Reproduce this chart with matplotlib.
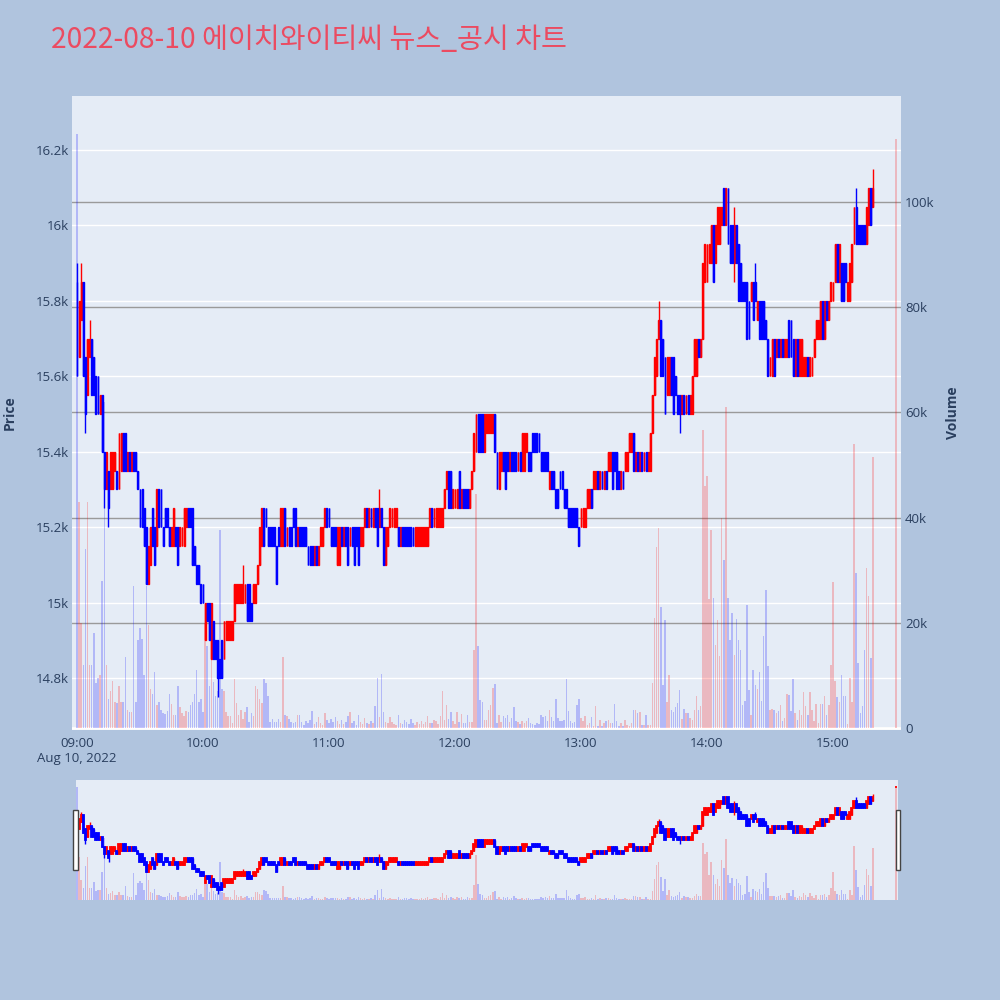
import matplotlib
matplotlib.use("Agg")
import matplotlib.pyplot as plt
from matplotlib.patches import Rectangle
import pandas as pd

plt.rcParams['font.family'] = ['Open Sans', 'Noto Sans CJK KR', 'DejaVu Sans']

title = "2022-08-10 에이치와이티씨 뉴스_공시 차트"

# one bar per minute 09:00-15:19, plus the 15:30 closing auction
times = list(pd.date_range("2022-08-10 09:00", "2022-08-10 15:19", freq="min"))
times.append(pd.Timestamp("2022-08-10 15:30"))

opens = [
    15850, 15650, 15750, 15850, 15650, 15550, 15650, 15700, 15650, 15600,
    15600, 15500, 15550, 15400, 15300, 15350, 15300, 15300, 15350, 15350,
    15300, 15350, 15450, 15450, 15350, 15400, 15350, 15400, 15400, 15350,
    15300, 15300, 15250, 15200, 15050, 15100, 15250, 15200, 15150, 15300,
    15300, 15200, 15250, 15250, 15200, 15150, 15150, 15200, 15200, 15150,
    15150, 15150, 15200, 15250, 15250, 15250, 15150, 15100, 15100, 15050,
    15050, 14900, 15000, 15000, 14850, 14950, 14900, 14900, 14850, 14900,
    14850, 14900, 14900, 14900, 14900, 14950, 15000, 15000, 15000, 15000,
    15000, 15050, 15050, 15000, 15000, 15000, 15050, 15100, 15150, 15250,
    15250, 15200, 15200, 15200, 15200, 15150, 15200, 15150, 15150, 15250,
    15150, 15200, 15200, 15250, 15250, 15150, 15200, 15200, 15200, 15200,
    15150, 15150, 15150, 15100, 15150, 15100, 15150, 15150, 15200, 15250,
    15250, 15200, 15200, 15200, 15100, 15100, 15200, 15150, 15200, 15200,
    15150, 15200, 15200, 15200, 15200, 15150, 15150, 15200, 15250, 15200,
    15250, 15200, 15250, 15250, 15200, 15250, 15200, 15100, 15150, 15200,
    15200, 15200, 15200, 15200, 15150, 15200, 15200, 15200, 15200, 15200,
    15200, 15150, 15150, 15150, 15150, 15150, 15150, 15150, 15200, 15250,
    15200, 15200, 15200, 15200, 15200, 15250, 15300, 15350, 15350, 15250,
    15250, 15250, 15350, 15250, 15300, 15300, 15300, 15250, 15300, 15350,
    15400, 15500, 15500, 15500, 15400, 15450, 15450, 15450, 15450, 15500,
    15400, 15300, 15350, 15400, 15400, 15400, 15350, 15400, 15400, 15400,
    15350, 15400, 15350, 15350, 15400, 15400, 15400, 15450, 15450, 15450,
    15450, 15400, 15400, 15400, 15400, 15300, 15350, 15350, 15300, 15300,
    15350, 15350, 15300, 15300, 15250, 15250, 15250, 15250, 15250, 15200,
    15200, 15200, 15200, 15250, 15250, 15300, 15300, 15300, 15350, 15300,
    15350, 15300, 15350, 15350, 15350, 15400, 15400, 15400, 15350, 15300,
    15350, 15350, 15350, 15400, 15400, 15450, 15350, 15400, 15350, 15400,
    15350, 15400, 15350, 15350, 15450, 15550, 15600, 15700, 15750, 15700,
    15650, 15550, 15550, 15650, 15650, 15600, 15550, 15550, 15500, 15550,
    15500, 15550, 15500, 15500, 15600, 15600, 15700, 15650, 15700, 15850,
    15850, 15900, 15900, 16000, 15900, 15950, 15950, 16000, 16100, 16000,
    16100, 16000, 16000, 15900, 16000, 15950, 15900, 15850, 15850, 15850,
    15800, 15800, 15850, 15850, 15750, 15800, 15800, 15800, 15750, 15700,
    15600, 15600, 15700, 15650, 15700, 15650, 15700, 15650, 15650, 15750,
    15750, 15700, 15600, 15700, 15600, 15600, 15600, 15600, 15650, 15600,
    15600, 15650, 15700, 15700, 15700, 15800, 15700, 15800, 15750, 15800,
    15800, 15850, 15950, 15850, 15900, 15900, 15900, 15800, 15800, 15850,
    15950, 16050, 16000, 16000, 16000, 16000, 15950, 16000, 16100, 16050,
    16250,
]

closes = [
    15600, 15800, 15850, 15600, 15500, 15700, 15700, 15550, 15550, 15500,
    15500, 15550, 15400, 15300, 15400, 15250, 15400, 15400, 15400, 15300,
    15450, 15450, 15350, 15350, 15400, 15350, 15400, 15350, 15350, 15300,
    15200, 15200, 15150, 15050, 15150, 15200, 15150, 15100, 15300, 15200,
    15200, 15150, 15200, 15200, 15150, 15200, 15250, 15150, 15100, 15200,
    15200, 15250, 15250, 15200, 15200, 15100, 15100, 15050, 15050, 15000,
    15000, 15000, 14950, 14900, 15000, 14850, 14850, 14800, 14800, 14800,
    14950, 14950, 14950, 14950, 14950, 15050, 15050, 15050, 15050, 15050,
    15050, 14950, 14950, 14950, 15050, 15050, 15100, 15200, 15250, 15150,
    15200, 15150, 15150, 15150, 15150, 15050, 15150, 15250, 15250, 15150,
    15200, 15150, 15150, 15200, 15150, 15200, 15150, 15150, 15150, 15150,
    15100, 15100, 15100, 15150, 15100, 15150, 15200, 15200, 15250, 15200,
    15200, 15150, 15150, 15150, 15200, 15200, 15150, 15200, 15150, 15100,
    15200, 15150, 15100, 15150, 15100, 15200, 15200, 15250, 15200, 15250,
    15200, 15250, 15200, 15150, 15250, 15200, 15100, 15200, 15200, 15250,
    15250, 15250, 15250, 15150, 15200, 15150, 15150, 15150, 15150, 15150,
    15150, 15200, 15200, 15200, 15200, 15200, 15200, 15200, 15250, 15200,
    15250, 15250, 15250, 15250, 15250, 15300, 15350, 15250, 15250, 15300,
    15300, 15300, 15250, 15300, 15250, 15250, 15250, 15300, 15350, 15450,
    15500, 15400, 15400, 15400, 15500, 15500, 15500, 15500, 15500, 15400,
    15300, 15400, 15400, 15350, 15300, 15350, 15400, 15350, 15350, 15350,
    15400, 15350, 15450, 15450, 15450, 15350, 15350, 15400, 15400, 15400,
    15400, 15350, 15350, 15350, 15350, 15350, 15300, 15300, 15250, 15250,
    15300, 15300, 15250, 15250, 15200, 15200, 15200, 15200, 15200, 15150,
    15250, 15250, 15250, 15300, 15300, 15250, 15350, 15350, 15300, 15350,
    15300, 15350, 15300, 15400, 15400, 15300, 15350, 15300, 15300, 15350,
    15300, 15400, 15400, 15450, 15450, 15350, 15400, 15350, 15400, 15350,
    15400, 15350, 15400, 15450, 15550, 15650, 15700, 15750, 15600, 15600,
    15500, 15650, 15650, 15550, 15500, 15550, 15500, 15500, 15550, 15500,
    15550, 15500, 15550, 15600, 15700, 15700, 15650, 15700, 15900, 15950,
    15950, 15950, 16000, 15850, 16000, 16050, 16050, 16050, 16000, 16100,
    15950, 15900, 15900, 16000, 15900, 15800, 15800, 15800, 15800, 15700,
    15700, 15850, 15750, 15800, 15800, 15700, 15700, 15700, 15700, 15600,
    15650, 15700, 15600, 15700, 15650, 15700, 15650, 15700, 15700, 15650,
    15650, 15600, 15700, 15600, 15700, 15700, 15650, 15650, 15600, 15650,
    15650, 15700, 15750, 15750, 15800, 15700, 15800, 15750, 15800, 15850,
    15850, 15950, 15850, 15950, 15800, 15800, 15850, 15850, 15900, 15950,
    16050, 15950, 15950, 15950, 15950, 15950, 16050, 16100, 16000, 16100,
    16250,
]

# bars whose shadow reaches past the body: (time, high, low)
wicks = [
    ("09:00", 15900, 15600), ("09:02", 15900, 15750), ("09:04", 15650, 15450),
    ("09:06", 15750, 15650), ("09:13", 15400, 15250), ("09:15", 15350, 15200),
    ("10:07", 14900, 14750), ("10:19", 15100, 15000), ("11:24", 15300, 15200),
    ("13:37", 15800, 15700), ("13:47", 15550, 15450), ("14:13", 16050, 15850),
    ("14:23", 15900, 15800), ("15:11", 16100, 15950), ("15:19", 16150, 16050),
]

# volume in thousands of shares
volume_k = [
    113, 43, 20, 12, 34, 43, 12, 12, 18, 8.5,
    9.5, 10, 28, 62, 12, 5.6, 7, 9, 5, 4.7,
    8, 5, 5, 13.5, 3.4, 3, 3, 27, 5, 16.7,
    19, 17, 10, 27, 19.6, 7.5, 6.5, 10.7, 4.4, 5,
    3.5, 2.8, 2.7, 3.2, 6.5, 4.5, 2.5, 2.4, 8, 4,
    2.8, 2.2, 3.2, 3, 4.4, 5, 6.5, 11, 5, 5.5,
    3, 20, 15.5, 8, 15, 8.8, 6, 7, 37.6, 7.5,
    7, 3, 2.2, 2.2, 1, 9.4, 4.7, 2.5, 3.4, 1.8,
    3, 4, 1.2, 2.8, 2.2, 8, 7.5, 5.6, 4.7, 9.4,
    8.5, 6, 1.2, 1.8, 1.2, 1.2, 1.8, 1.2, 13.5, 2.5,
    2.2, 1.8, 1.2, 0.9, 1.2, 2.5, 2.5, 1.2, 0.6, 1.4,
    1.0, 1.5, 3.2, 0.8, 1.2, 2.0, 1.0, 0.6, 2.8, 1.5,
    0.9, 1.8, 1.2, 2.0, 1.4, 0.8, 1.6, 0.7, 1.1, 2.2,
    3.0, 1.0, 1.3, 0.6, 2.5, 1.2, 0.8, 1.9, 1.0, 0.7,
    1.3, 0.9, 4.2, 9.6, 2.0, 10.3, 3.0, 1.2, 0.9, 2.0,
    1.1, 0.8, 0.6, 2.4, 1.0, 0.8, 1.6, 1.2, 0.7, 1.8,
    1.0, 0.6, 1.1, 0.8, 1.4, 0.7, 1.2, 2.3, 1.0, 0.9,
    1.6, 1.3, 0.7, 2.3, 7.1, 1.5, 4.4, 1.8, 3.0, 1.4,
    0.8, 3.0, 1.2, 2.6, 1.0, 0.9, 2.5, 1.2, 1.2, 14.8,
    44.5, 15.5, 5.4, 4.9, 1.6, 1.6, 3.5, 4.4, 7.6, 8.4,
    1.0, 2.5, 1.1, 2.2, 1.9, 2.5, 1.1, 1.9, 4.0, 1.4,
    1.1, 0.8, 1.4, 1.0, 1.3, 1.9, 1.0, 0.8, 0.6, 1.0,
    0.7, 2.5, 2.1, 2.2, 1.3, 3.5, 2.1, 1.3, 5.5, 1.9,
    1.3, 1.3, 1.6, 9.4, 3.2, 1.3, 1.0, 1.1, 4.4, 5.6,
    1.9, 1.3, 2.3, 0.6, 1.0, 2.1, 0.3, 4.2, 0.4, 1.6,
    0.3, 1.0, 1.3, 1.6, 1.0, 1.0, 4.6, 1.3, 0.3, 1.0,
    0.3, 1.6, 0.6, 0.3, 1.0, 3.5, 3.5, 2.9, 3.0, 0.6,
    0.6, 2.5, 0.5, 0.5, 8.6, 21, 34.5, 38, 23, 8.2,
    20.6, 5, 10, 3.4, 3, 4, 4.8, 7.3, 1.7, 3.6,
    2.9, 2.9, 1.9, 1.5, 3.5, 6, 3.5, 4.1, 56.6, 46,
    48, 24.6, 37.7, 24.8, 15.8, 20.5, 13.6, 40, 32, 61,
    24.7, 16.7, 21.9, 13.9, 20.7, 16.8, 14.9, 4.4, 5.2, 23.4,
    7.3, 2.5, 11, 8.2, 7.5, 10.6, 5.2, 17.4, 26.3, 11.7,
    3.5, 3.6, 3.5, 2.9, 3.2, 4.4, 1.3, 1.9, 6.5, 6.3,
    3.2, 9.3, 2.8, 1.5, 3.4, 2.5, 6.8, 4.2, 2.5, 6.8,
    3.5, 1.3, 4.6, 1.0, 4.6, 4.6, 6.1, 2.5, 4.4, 12,
    27.7, 9, 5.8, 5, 10, 6, 6, 0.8, 9.5, 5,
    54, 29.5, 12.4, 2.9, 4.2, 14.8, 30.4, 25, 13.4, 51.5,
    112,
]

price_ticks = [14800, 15000, 15200, 15400, 15600, 15800, 16000, 16200]
price_labels = ["14.8k", "15k", "15.2k", "15.4k", "15.6k", "15.8k", "16k", "16.2k"]
volume_ticks = [0, 20, 40, 60, 80, 100]
volume_labels = ["0", "20k", "40k", "60k", "80k", "100k"]
time_ticks = ["09:00", "10:00", "11:00", "12:00", "13:00", "14:00", "15:00"]

UP = "#ff0000"
DOWN = "#0000ff"
BG = "#b0c4de"
PLOT_BG = "#e5ecf6"
FONT = "#2a3f5f"

t0 = times[0]
x = [(t - t0).total_seconds() / 60 for t in times]
highs = [max(o, c) for o, c in zip(opens, closes)]
lows = [min(o, c) for o, c in zip(opens, closes)]
for t, hi, lo in wicks:
    i = x.index((pd.Timestamp("2022-08-10 " + t) - t0).total_seconds() / 60)
    highs[i], lows[i] = hi, lo
rising = [c >= o for o, c in zip(opens, closes)]
vol_colors = [UP if r else DOWN for r in rising]
tick_pos = [(pd.Timestamp("2022-08-10 " + t) - t0).total_seconds() / 60 for t in time_ticks]

PRICE_LIM = (14662, 16343)
VOL_LIM = (-0.38, 120.15)


def draw_volume(ax):
    ax.bar(x, volume_k, width=0.7, color=vol_colors, alpha=0.22, linewidth=0, zorder=2)


def draw_candles(ax, body_w, lw):
    for flag, color in ((True, UP), (False, DOWN)):
        idx = [i for i, r in enumerate(rising) if r == flag]
        xs = [x[i] for i in idx]
        ax.vlines(xs, [lows[i] for i in idx], [highs[i] for i in idx],
                  color=color, linewidth=1.0, zorder=3)
        ax.bar(xs, [abs(closes[i] - opens[i]) for i in idx],
               bottom=[min(opens[i], closes[i]) for i in idx],
               width=body_w, color=color, edgecolor=color, linewidth=lw, zorder=3)


def clean(ax):
    for s in ax.spines.values():
        s.set_visible(False)
    ax.tick_params(length=0)


fig = plt.figure(figsize=(10, 10), dpi=100, facecolor=BG)

# main chart
rect = [0.072, 0.270, 0.829, 0.634]
ax = fig.add_axes(rect, facecolor=PLOT_BG)
ax.set_xlim(-2.38, 392.38)
ax.set_ylim(*PRICE_LIM)
ax.set_yticks(price_ticks)
ax.set_yticklabels(price_labels)
ax.yaxis.grid(True, color="white", linewidth=1)
ax.set_axisbelow(True)
ax.set_xticks(tick_pos)
ax.set_xticklabels([time_ticks[0] + "\nAug 10, 2022"] + time_ticks[1:])
for lab in ax.get_xticklabels():
    lab.set_linespacing(1.25)
ax.tick_params(colors=FONT, labelsize=9.5)
ax.tick_params(axis="y", pad=2)
ax.tick_params(axis="x", pad=5)
clean(ax)

axv = ax.twinx()
axv.set_ylim(*VOL_LIM)
axv.set_yticks(volume_ticks)
axv.set_yticklabels(volume_labels)
axv.yaxis.grid(True, color="#9a9a9a", linewidth=1)
axv.set_axisbelow(True)
axv.axhline(0, color="white", linewidth=2, zorder=1)
axv.tick_params(colors=FONT, labelsize=9.5, pad=3)
draw_volume(axv)
clean(axv)

axp = ax.twinx()
axp.set_ylim(*PRICE_LIM)
axp.set_yticks([])
draw_candles(axp, 0.45, 1.0)
clean(axp)

fig.text(0.051, 0.960, title, fontsize=20.3, color="#eb4b61",
         family=["Noto Sans CJK KR", "DejaVu Sans"], va="center", ha="left")
fig.text(0.010, 0.587, "Price", rotation=90, fontsize=10, fontweight="bold",
         color=FONT, ha="center", va="center")
fig.text(0.953, 0.587, "Volume", rotation=90, fontsize=10, fontweight="bold",
         color=FONT, ha="center", va="center")

# range slider
rs = fig.add_axes([0.076, 0.100, 0.822, 0.120], facecolor=PLOT_BG)
rs.set_xlim(-0.48, 390.95)
rs.set_ylim(*VOL_LIM)
rs.set_xticks([])
rs.set_yticks([])
draw_volume(rs)
clean(rs)
rsp = rs.twinx()
rsp.set_ylim(*PRICE_LIM)
rsp.set_yticks([])
draw_candles(rsp, 0.5, 1.3)
clean(rsp)

for left in (0.0733, 0.896):
    fig.patches.append(Rectangle((left, 0.130), 0.0044, 0.060, transform=fig.transFigure,
                                 facecolor="white", edgecolor="#444444", linewidth=1, zorder=5))

fig.savefig("out.png", dpi=100, facecolor=BG)
